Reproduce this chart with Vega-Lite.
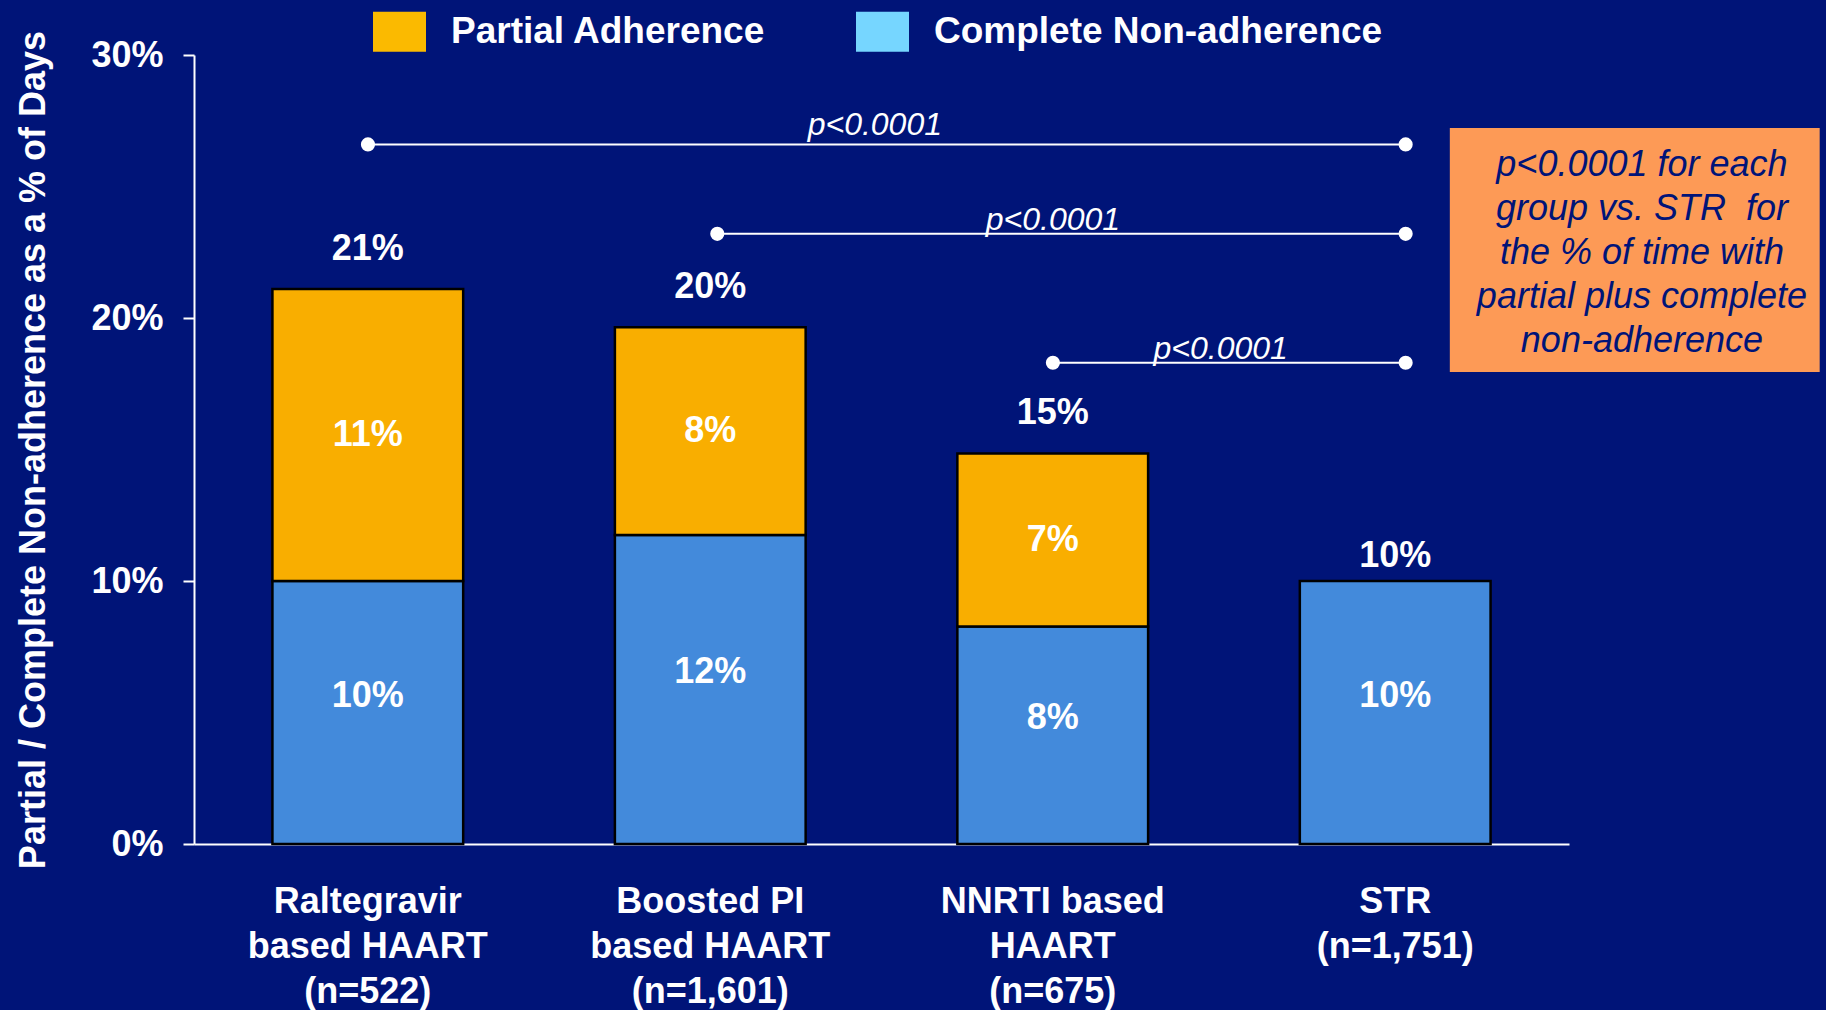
{
  "$schema": "https://vega.github.io/schema/vega-lite/v6.json",
  "width": 1375,
  "height": 789,
  "autosize": {"type": "none"},
  "padding": {"left": 194, "top": 55, "right": 257, "bottom": 166},
  "background": "#001478",
  "config": {"view": {"stroke": null}, "font": "Liberation Sans"},
  "datasets": {
    "bars": [
      {"group": "Raltegravir\nbased HAART\n(n=522)", "segment": "Complete Non-adherence", "value": 0.100},
      {"group": "Raltegravir\nbased HAART\n(n=522)", "segment": "Partial Adherence", "value": 0.111},
      {"group": "Boosted PI\nbased HAART\n(n=1,601)", "segment": "Complete Non-adherence", "value": 0.1175},
      {"group": "Boosted PI\nbased HAART\n(n=1,601)", "segment": "Partial Adherence", "value": 0.079},
      {"group": "NNRTI based\nHAART\n(n=675)", "segment": "Complete Non-adherence", "value": 0.0827},
      {"group": "NNRTI based\nHAART\n(n=675)", "segment": "Partial Adherence", "value": 0.0658},
      {"group": "STR\n(n=1,751)", "segment": "Complete Non-adherence", "value": 0.100}
    ],
    "plines": [
      {"from": 0.0, "to": 3.03, "level": 0.266, "mid": 1.48, "label": "p<0.0001"},
      {"from": 1.02, "to": 3.03, "level": 0.232, "mid": 2.0, "label": "p<0.0001"},
      {"from": 2.0, "to": 3.03, "level": 0.183, "mid": 2.49, "label": "p<0.0001"}
    ],
    "note": [
      {"bx0": 3.159, "bx1": 4.239, "by0": 0.1795, "by1": 0.2722, "tx": 3.72, "ty": 0.2582,
       "note": "p<0.0001 for each\ngroup vs. STR\u00a0 for\nthe % of time with\npartial plus complete\nnon-adherence"}
    ]
  },
  "layer": [
    {
      "data": {"name": "bars"},
      "encoding": {
        "x": {
          "field": "group", "type": "nominal", "sort": null,
          "scale": {"type": "band", "paddingInner": 0.443, "paddingOuter": 0.229},
          "axis": {
            "title": null, "labelAngle": 0, "ticks": false,
            "domainColor": "white", "domainWidth": 2,
            "labelColor": "white", "labelFont": "Liberation Sans", "labelFontSize": 36, "labelFontWeight": "bold",
            "labelBaseline": "top", "labelPadding": 40, "labelLineHeight": 45, "labelLimit": 400,
            "labelExpr": "split(datum.label, '\\n')"
          }
        },
        "y": {
          "field": "value", "type": "quantitative",
          "scale": {"domain": [0, 0.3], "nice": false},
          "title": "Partial / Complete Non-adherence as a % of Days",
          "axis": {
            "values": [0, 0.1, 0.2, 0.3], "format": ".0%", "grid": false,
            "domainColor": "white", "domainWidth": 2,
            "tickColor": "white", "tickWidth": 2, "tickSize": 11,
            "labelColor": "white", "labelFont": "Liberation Sans", "labelFontSize": 36, "labelFontWeight": "bold",
            "labelPadding": 20,
            "titleColor": "white", "titleFont": "Liberation Sans", "titleFontSize": 36, "titleFontWeight": "bold",
            "titlePadding": 38
          }
        }
      },
      "layer": [
        {
          "mark": {"type": "bar", "stroke": "black", "strokeWidth": 2.5},
          "encoding": {
            "y": {
              "field": "value", "type": "quantitative", "stack": "zero",
              "scale": {"domain": [0, 0.3], "nice": false},
              "title": "Partial / Complete Non-adherence as a % of Days"
            },
            "fill": {
              "condition": {"test": "datum.segment === 'Partial Adherence'", "value": "#F9AE00"},
              "value": "#438ADB"
            },
            "detail": {"field": "segment", "type": "nominal"},
            "order": {"field": "segment", "sort": "ascending"}
          }
        },
        {
          "transform": [{"filter": "false"}],
          "mark": {"type": "bar"},
          "encoding": {
            "y": {
              "field": "value", "type": "quantitative",
              "scale": {"domain": [0, 0.3], "nice": false},
              "title": "Partial / Complete Non-adherence as a % of Days"
            },
            "color": {
              "field": "segment", "type": "nominal",
              "scale": {"domain": ["Partial Adherence", "Complete Non-adherence"], "range": ["#FBBA00", "#76D6FF"]},
              "legend": {
                "orient": "none", "legendX": 179, "legendY": -50, "direction": "horizontal",
                "title": null, "padding": 0,
                "symbolType": "M-1,-0.755H1V0.755H-1Z", "symbolSize": 2809, "symbolStrokeWidth": 0, "symbolOpacity": 1,
                "labelFont": "Liberation Sans", "labelFontSize": 37, "labelFontWeight": "bold", "labelColor": "white",
                "labelOffset": 25, "columnPadding": 90, "labelLimit": 600
              }
            }
          }
        },
        {
          "transform": [
            {"stack": "value", "groupby": ["group"], "sort": [{"field": "segment", "order": "ascending"}], "as": ["v0", "v1"]},
            {"fold": ["v0", "v1"], "as": ["edge", "pos"]},
            {"aggregate": [{"op": "mean", "field": "pos", "as": "mid"}], "groupby": ["group", "segment", "value"]}
          ],
          "layer": [
            {
              "transform": [{"filter": "datum.segment === 'Partial Adherence'"}],
              "mark": {"type": "text", "color": "white", "font": "Liberation Sans", "fontSize": 36, "fontWeight": "bold", "baseline": "middle"},
              "encoding": {
                "y": {"field": "mid", "type": "quantitative", "scale": {"domain": [0, 0.3], "nice": false}, "title": "Partial / Complete Non-adherence as a % of Days"},
                "text": {"field": "value", "type": "quantitative", "format": ".0%"}
              }
            },
            {
              "transform": [{"filter": "datum.segment === 'Complete Non-adherence'"}],
              "mark": {"type": "text", "color": "white", "font": "Liberation Sans", "fontSize": 36, "fontWeight": "bold", "baseline": "middle", "dy": -17},
              "encoding": {
                "y": {"field": "mid", "type": "quantitative", "scale": {"domain": [0, 0.3], "nice": false}, "title": "Partial / Complete Non-adherence as a % of Days"},
                "text": {"field": "value", "type": "quantitative", "format": ".0%"}
              }
            }
          ]
        },
        {
          "transform": [{"aggregate": [{"op": "sum", "field": "value", "as": "total"}], "groupby": ["group"]}],
          "layer": [
            {
              "transform": [{"filter": "indexof(datum.group, 'STR') !== 0"}],
              "mark": {"type": "text", "color": "white", "font": "Liberation Sans", "fontSize": 36, "fontWeight": "bold", "baseline": "middle", "dy": -40},
              "encoding": {
                "y": {"field": "total", "type": "quantitative", "scale": {"domain": [0, 0.3], "nice": false}, "title": "Partial / Complete Non-adherence as a % of Days"},
                "text": {"field": "total", "type": "quantitative", "format": ".0%"}
              }
            },
            {
              "transform": [{"filter": "indexof(datum.group, 'STR') === 0"}],
              "mark": {"type": "text", "color": "white", "font": "Liberation Sans", "fontSize": 36, "fontWeight": "bold", "baseline": "middle", "dy": -25},
              "encoding": {
                "y": {"field": "total", "type": "quantitative", "scale": {"domain": [0, 0.3], "nice": false}, "title": "Partial / Complete Non-adherence as a % of Days"},
                "text": {"field": "total", "type": "quantitative", "format": ".0%"}
              }
            }
          ]
        }
      ]
    },
    {
      "layer": [
        {
          "data": {"name": "plines"},
          "mark": {"type": "rule", "color": "white", "strokeWidth": 2},
          "encoding": {
            "x": {"field": "from", "type": "quantitative", "scale": {"domain": [-0.508, 3.507], "nice": false, "zero": false}, "axis": null},
            "x2": {"field": "to"},
            "y": {"field": "level", "type": "quantitative", "scale": {"domain": [0, 0.3], "nice": false}, "title": "Partial / Complete Non-adherence as a % of Days"}
          }
        },
        {
          "data": {"name": "plines"},
          "mark": {"type": "point", "filled": true, "color": "white", "opacity": 1, "size": 200, "shape": "circle"},
          "encoding": {
            "x": {"field": "from", "type": "quantitative", "scale": {"domain": [-0.508, 3.507], "nice": false, "zero": false}, "axis": null},
            "y": {"field": "level", "type": "quantitative", "scale": {"domain": [0, 0.3], "nice": false}, "title": "Partial / Complete Non-adherence as a % of Days"}
          }
        },
        {
          "data": {"name": "plines"},
          "mark": {"type": "point", "filled": true, "color": "white", "opacity": 1, "size": 200, "shape": "circle"},
          "encoding": {
            "x": {"field": "to", "type": "quantitative", "scale": {"domain": [-0.508, 3.507], "nice": false, "zero": false}, "axis": null},
            "y": {"field": "level", "type": "quantitative", "scale": {"domain": [0, 0.3], "nice": false}, "title": "Partial / Complete Non-adherence as a % of Days"}
          }
        },
        {
          "data": {"name": "plines"},
          "transform": [{"filter": "datum.level > 0.25"}],
          "mark": {"type": "text", "color": "white", "font": "Liberation Sans", "fontSize": 32, "fontStyle": "italic", "baseline": "alphabetic", "dy": -9},
          "encoding": {
            "x": {"field": "mid", "type": "quantitative", "scale": {"domain": [-0.508, 3.507], "nice": false, "zero": false}, "axis": null},
            "y": {"field": "level", "type": "quantitative", "scale": {"domain": [0, 0.3], "nice": false}, "title": "Partial / Complete Non-adherence as a % of Days"},
            "text": {"field": "label", "type": "nominal"}
          }
        },
        {
          "data": {"name": "plines"},
          "transform": [{"filter": "datum.level <= 0.25"}],
          "mark": {"type": "text", "color": "white", "font": "Liberation Sans", "fontSize": 32, "fontStyle": "italic", "baseline": "alphabetic", "dy": -4},
          "encoding": {
            "x": {"field": "mid", "type": "quantitative", "scale": {"domain": [-0.508, 3.507], "nice": false, "zero": false}, "axis": null},
            "y": {"field": "level", "type": "quantitative", "scale": {"domain": [0, 0.3], "nice": false}, "title": "Partial / Complete Non-adherence as a % of Days"},
            "text": {"field": "label", "type": "nominal"}
          }
        },
        {
          "data": {"name": "note"},
          "mark": {"type": "rect", "color": "#FD9A56", "opacity": 1},
          "encoding": {
            "x": {"field": "bx0", "type": "quantitative", "scale": {"domain": [-0.508, 3.507], "nice": false, "zero": false}, "axis": null},
            "x2": {"field": "bx1"},
            "y": {"field": "by0", "type": "quantitative", "scale": {"domain": [0, 0.3], "nice": false}, "title": "Partial / Complete Non-adherence as a % of Days"},
            "y2": {"field": "by1"}
          }
        },
        {
          "data": {"name": "note"},
          "mark": {"type": "text", "color": "#001478", "font": "Liberation Sans", "fontSize": 36, "fontStyle": "italic", "baseline": "middle", "align": "center", "lineBreak": "\n", "lineHeight": 44},
          "encoding": {
            "x": {"field": "tx", "type": "quantitative", "scale": {"domain": [-0.508, 3.507], "nice": false, "zero": false}, "axis": null},
            "y": {"field": "ty", "type": "quantitative", "scale": {"domain": [0, 0.3], "nice": false}, "title": "Partial / Complete Non-adherence as a % of Days"},
            "text": {"field": "note", "type": "nominal"}
          }
        }
      ]
    }
  ],
  "resolve": {"scale": {"x": "independent"}}
}
